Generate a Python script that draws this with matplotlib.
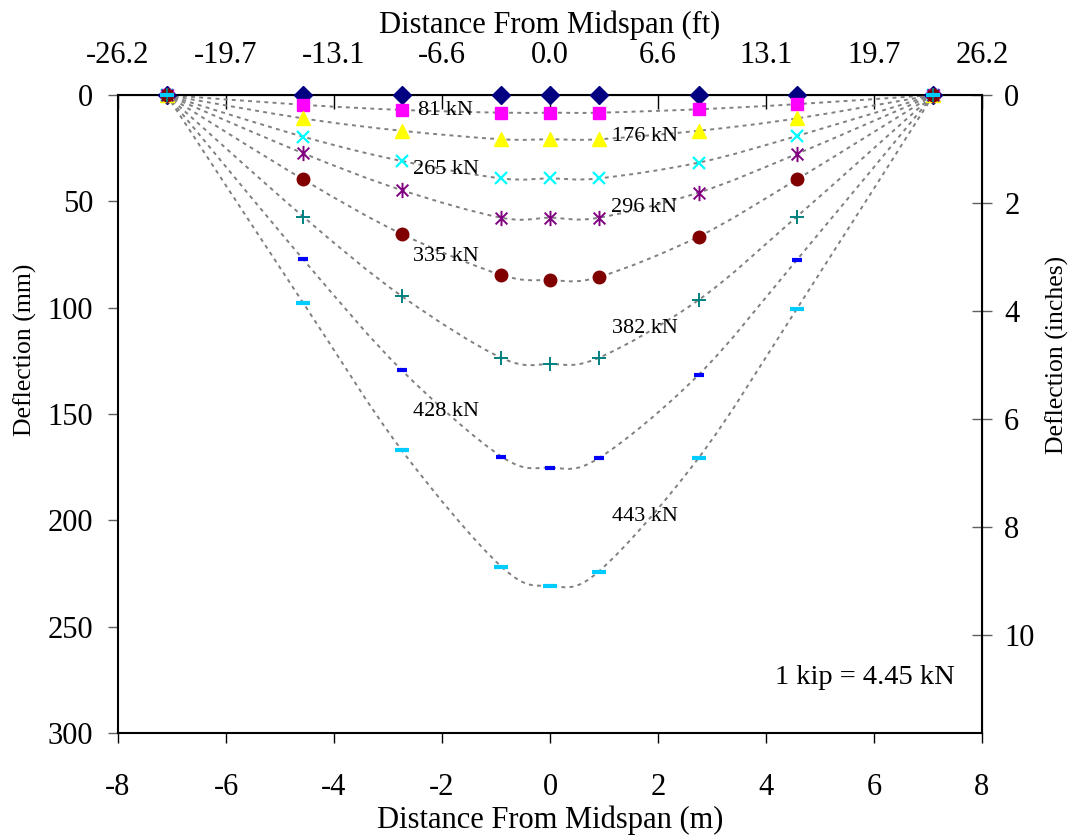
import matplotlib
matplotlib.use("Agg")
import matplotlib.pyplot as plt
from matplotlib.path import Path
from matplotlib.patches import PathPatch

plt.rcParams['font.family'] = ['Liberation Serif', 'DejaVu Serif']
plt.rcParams['axes.unicode_minus'] = False

# Gauge positions along the span (m)
X_M = [-7.1, -4.57, -2.75, -0.9, 0.0, 0.9, 2.75, 4.57, 7.1]

# Deflection (mm) at each load level
D_0 = [0, 0, 0, 0, 0, 0, 0, 0, 0]
D_81 = [0, 4.6, 7.0, 8.3, 8.3, 8.3, 6.7, 4.3, 0]
D_176 = [0, 11.0, 16.8, 20.8, 20.8, 20.8, 16.8, 11.0, 0]
D_265 = [0, 19.6, 31.0, 39.2, 39.2, 39.2, 31.8, 19.3, 0]
D_296 = [0, 27.4, 44.7, 57.7, 57.7, 57.7, 45.9, 27.7, 0]
D_335 = [0, 39.7, 65.3, 84.6, 87.0, 85.6, 66.6, 39.7, 0]
D_382 = [0, 57.2, 94.5, 123.6, 126.5, 123.6, 96.4, 57.2, 0]
D_428 = [0, 77.3, 129.3, 170.0, 175.2, 170.8, 131.6, 77.6, 0]
D_443 = [0, 97.8, 166.9, 221.8, 230.8, 224.1, 170.7, 100.6, 0]

LOAD_LABELS = ["81 kN", "176 kN", "265 kN", "296 kN", "335 kN",
               "382 kN", "428 kN", "443 kN"]
# where each load label sits (m, mm)
LABEL_X = [-2.44, 1.15, -2.54, 1.13, -2.54, 1.15, -2.54, 1.15]
LABEL_Y = [7.5, 19.3, 35.0, 52.7, 76.0, 110.0, 149.0, 198.0]

X_TICKS = [-8, -6, -4, -2, 0, 2, 4, 6, 8]
Y_TICKS = [0, 50, 100, 150, 200, 250, 300]
IN_TICKS = [0, 2, 4, 6, 8, 10]

# Excel-like asterisk: an X with a vertical bar
STAR = Path([(-1, -1), (1, 1), (-1, 1), (1, -1), (0, -1.3), (0, 1.3)],
            [Path.MOVETO, Path.LINETO, Path.MOVETO, Path.LINETO,
             Path.MOVETO, Path.LINETO])

STYLES = [
    dict(marker='D', color='#000080', ms=9, mec='#000080'),
    dict(marker='s', color='#FF00FF', ms=9, mec='#FF00FF'),
    dict(marker='^', color='#FFFF00', ms=10, mec='#FFFF00'),
    dict(marker='x', color='#00FFFF', ms=9, mew=1.6),
    dict(marker=STAR, color='#800080', ms=11, mew=1.4),
    dict(marker='o', color='#800000', ms=9, mec='#800000'),
    dict(marker='+', color='#008080', ms=10, mew=1.4),
    dict(marker='_', color='#0000FF', ms=7, mew=3),
    dict(marker='_', color='#00CCFF', ms=10, mew=3),
]


def smooth_path(xs, ys):
    """Bezier path through the points, like Excel's smoothed lines"""
    pts = list(zip(xs, ys))
    n = len(pts)
    verts = [pts[0]]
    codes = [Path.MOVETO]
    for i in range(n - 1):
        p0 = pts[max(i - 1, 0)]
        p1 = pts[i]
        p2 = pts[i + 1]
        p3 = pts[min(i + 2, n - 1)]
        c1 = (p1[0] + (p2[0] - p0[0]) / 6, p1[1] + (p2[1] - p0[1]) / 6)
        c2 = (p2[0] - (p3[0] - p1[0]) / 6, p2[1] - (p3[1] - p1[1]) / 6)
        verts += [c1, c2, p2]
        codes += [Path.CURVE4] * 3
    return Path(verts, codes)


fig = plt.figure(figsize=(10.79, 8.38), dpi=100)
ax = fig.add_axes([0.1094, 0.1253, 0.8007, 0.7613])

series = [D_0, D_81, D_176, D_265, D_296, D_335, D_382, D_428, D_443]
for d in series:
    ax.add_patch(PathPatch(smooth_path(X_M, d), fill=False, ec='#808080',
                           lw=1.4, ls=(0, (2, 2.2)), zorder=2))
for d, st in zip(series, STYLES):
    ax.plot(X_M, d, ls='none', zorder=3, clip_on=False, **st)

for txt, lx, ly in zip(LOAD_LABELS, LABEL_X, LABEL_Y):
    ax.text(lx, ly, txt, fontsize=16, ha='left', va='center', zorder=4)
ax.text(4.17, 274, "1 kip = 4.45 kN", fontsize=20.5, ha='left', va='center')

ax.set_xlim(-8, 8)
ax.set_ylim(300, 0)
ax.set_xticks(X_TICKS)
ax.set_yticks(Y_TICKS)
ax.tick_params(axis='x', direction='out', length=7, width=1, pad=22, labelsize=22)
ax.tick_params(axis='y', direction='out', length=7, width=1, pad=11,
               labelsize=22, color='#606060')
for s in ax.spines.values():
    s.set_linewidth(1.5)
ax.set_xlabel("Distance From Midspan (m)", fontsize=22, labelpad=2)

# top axis in feet
top = ax.secondary_xaxis('top', functions=(lambda m: m * 3.28084,
                                           lambda f: f / 3.28084))
top.set_xticks([t * 3.28084 for t in X_TICKS])
top.xaxis.set_major_formatter(matplotlib.ticker.FormatStrFormatter('%.1f'))
top.tick_params(direction='in', length=10, width=1, pad=18, labelsize=22)
top.set_xlabel("Distance From Midspan (ft)", fontsize=22, labelpad=6)

# right axis in inches
right = ax.secondary_yaxis('right', functions=(lambda mm: mm / 25.4,
                                               lambda i: i * 25.4))
right.set_yticks(IN_TICKS)
right.tick_params(direction='inout', length=14, width=1, pad=9,
                  labelsize=22, color='#606060')

# axis titles sit off-centre, as in the original sheet
fig.text(0.0232, 0.5823, "Deflection (mm)", fontsize=18.5, rotation=90,
         ha='center', va='center')
fig.text(0.9796, 0.5764, "Deflection (inches)", fontsize=18.5, rotation=90,
         ha='center', va='center')

fig.savefig("out.png", dpi=100, facecolor='white')
